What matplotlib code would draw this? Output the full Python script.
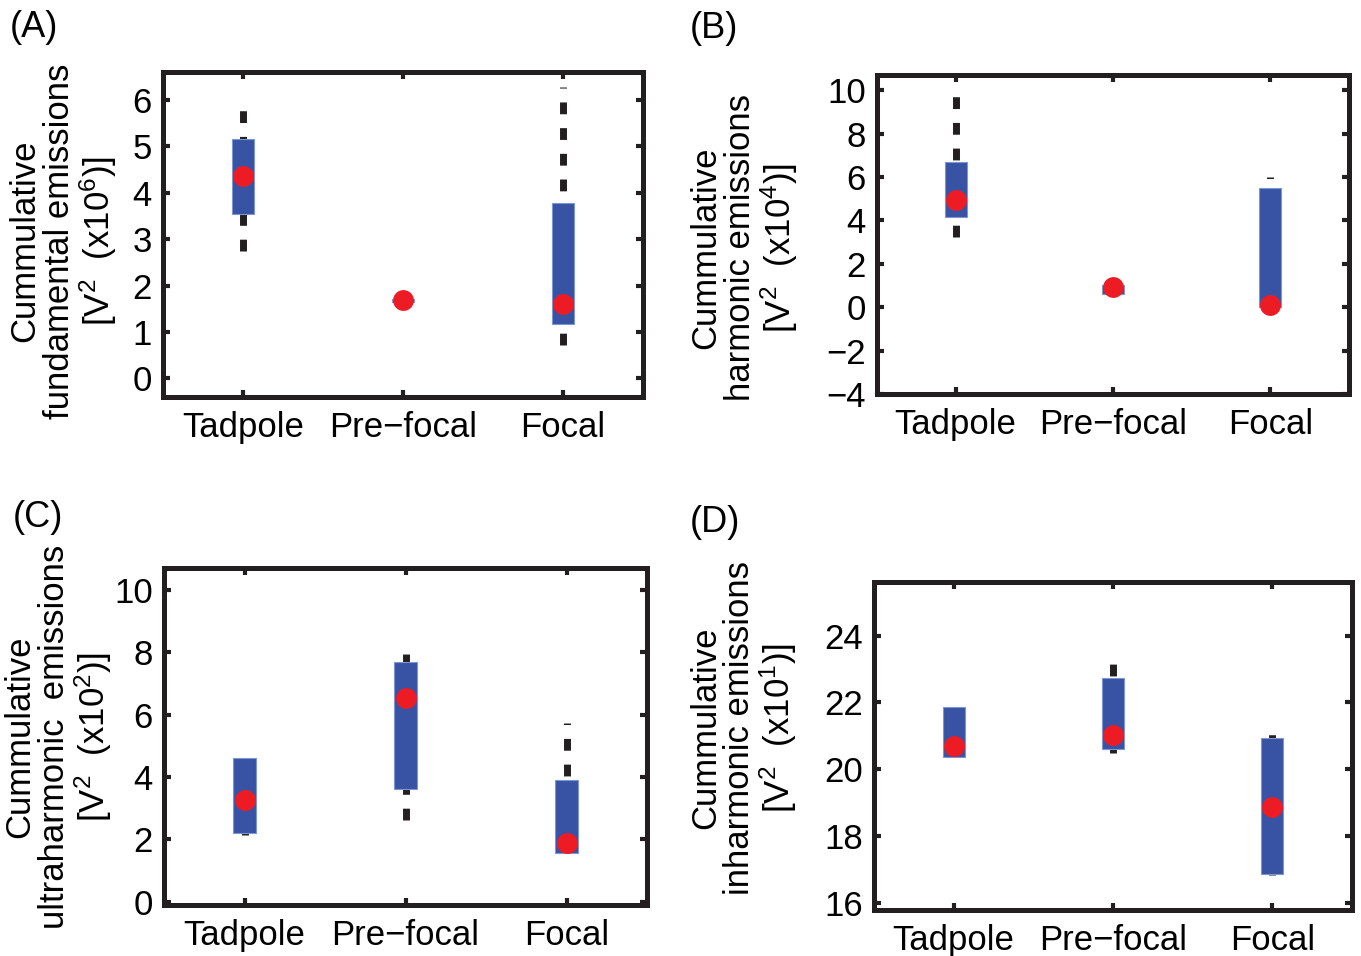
import matplotlib
matplotlib.use('Agg')
import matplotlib.pyplot as plt
import numpy as np

plt.rcParams['font.family'] = ['Liberation Sans', 'DejaVu Sans']
plt.rcParams['mathtext.default'] = 'regular'

categories = ['Tadpole', 'Pre\u2212focal', 'Focal']

# (A) fundamental
a_lo = [2.75, 1.68, 0.71]
a_q1 = [3.55, 1.65, 1.18]
a_med = [4.35, 1.68, 1.61]
a_q3 = [5.16, 1.72, 3.78]
a_hi = [5.78, 1.68, 6.28]

# (B) harmonic
b_lo = [3.23, 0.60, 0.03]
b_q1 = [4.15, 0.60, 0.03]
b_med = [4.95, 0.92, 0.12]
b_q3 = [6.68, 1.00, 5.50]
b_hi = [9.76, 1.00, 5.99]

# (C) ultraharmonic
c_lo = [2.15, 2.63, 1.58]
c_q1 = [2.20, 3.61, 1.58]
c_med = [3.27, 6.53, 1.88]
c_q3 = [4.61, 7.68, 3.91]
c_hi = [4.61, 8.00, 5.73]

# (D) inharmonic
d_lo = [20.37, 20.49, 16.84]
d_q1 = [20.37, 20.62, 16.87]
d_med = [20.69, 21.04, 18.87]
d_q3 = [21.86, 22.73, 20.93]
d_hi = [21.86, 23.20, 21.09]

ylabels = ['Cummulative\nfundamental emissions\n[V$^2$  (x10$^6$)]',
           'Cummulative\nharmonic emissions\n[V$^2$  (x10$^4$)]',
           'Cummulative\nultraharmonic  emissions\n[V$^2$  (x10$^2$)]',
           'Cummulative\ninharmonic emissions\n[V$^2$  (x10$^1$)]']
letters = ['(A)', '(B)', '(C)', '(D)']

W, H = 1361, 956
fig = plt.figure(figsize=(W / 100, H / 100), dpi=100)

# pixel boxes: left, right, top, bottom
boxes = [(163, 643, 72, 397), (877, 1349, 75, 394),
         (164, 647, 568, 905), (874, 1352, 582, 910)]
ylims = [(-0.4, 6.6), (-4, 10.7), (-0.1, 10.7), (15.8, 25.6)]
yticks = [np.arange(0, 7, 1), np.arange(-4, 11, 2), np.arange(0, 11, 2), np.arange(16, 25, 2)]
label_x = [-0.092, -0.163, -0.104, -0.156]
label_y = [0.48, 0.458, 0.5, 0.555]
letter_pos = [(10, 10), (690, 11), (13, 500), (690, 505)]
panels = [(a_lo, a_q1, a_med, a_q3, a_hi), (b_lo, b_q1, b_med, b_q3, b_hi),
          (c_lo, c_q1, c_med, c_q3, c_hi), (d_lo, d_q1, d_med, d_q3, d_hi)]

x = np.arange(1, 4)
for i, (lo, q1, med, q3, hi) in enumerate(panels):
    l, r, t, b = boxes[i]
    ax = fig.add_axes([l / W, 1 - b / H, (r - l) / W, (b - t) / H])

    for xi, ylo, yhi in zip(x, lo, hi):
        ax.plot([xi, xi], [ylo, yhi], color='#231f20', lw=5, linestyle=(0, (1.7, 2.0)),
                dash_capstyle='butt', zorder=1)
    ax.bar(x, np.array(q3) - np.array(q1), bottom=q1, width=0.14, color='#3953a4',
           edgecolor='#7d95d1', linewidth=0.8, zorder=2)
    ax.plot(x, med, 'o', ms=15, color='#ed1c24', mec='none', zorder=3)

    ax.set_xlim(0.5, 3.5)
    ax.set_ylim(*ylims[i])
    ax.set_xticks(x)
    ax.set_xticklabels(categories)
    ax.set_yticks(yticks[i])
    ax.tick_params(direction='in', top=True, right=True, length=5, width=3,
                   color='#231f20', labelsize=25, pad=8)
    ax.tick_params(axis='x', pad=10)
    for s in ax.spines.values():
        s.set_linewidth(3.6)
        s.set_color('#231f20')

    ax.set_ylabel(ylabels[i], fontsize=25, linespacing=1.05)
    ax.yaxis.set_label_coords(label_x[i], label_y[i])

    fig.text(letter_pos[i][0] / W, 1 - letter_pos[i][1] / H, letters[i],
             fontsize=26, ha='left', va='top')

plt.savefig('out.png', dpi=100)
plt.close()
